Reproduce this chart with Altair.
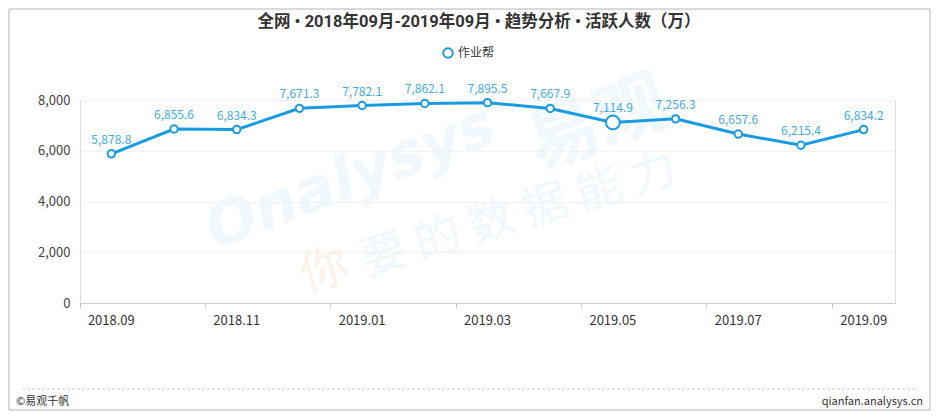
import altair as alt
import pandas as pd

months = ["2018.09", "2018.10", "2018.11", "2018.12", "2019.01", "2019.02", "2019.03",
          "2019.04", "2019.05", "2019.06", "2019.07", "2019.08", "2019.09"]
values = [5878.8, 6855.6, 6834.3, 7671.3, 7782.1, 7862.1, 7895.5,
          7667.9, 7114.9, 7256.3, 6657.6, 6215.4, 6834.2]
series_name = "作业帮"
tick_labels = ["2018.09", "2018.11", "2019.01", "2019.03", "2019.05", "2019.07", "2019.09"]
y_ticks = [0, 2000, 4000, 6000, 8000]
title_text = "全网 • 2018年09月-2019年09月 • 趋势分析 • 活跃人数（万）"
footer_left = "©易观千帆"
footer_right = "qianfan.analysys.cn"

df = pd.DataFrame({"month": months, "value": values, "series": series_name})
one = pd.DataFrame({"k": [0]})

W, H = 815, 203
FONT = "Noto Sans CJK SC"
TFONT = "Roboto, 'Noto Sans CJK SC'"
BLUE = "#1a9be1"
LABEL_BLUE = "#42aae8"
WM = "#e3f2fc"

x_enc = alt.X("month:O", sort=months, bandPosition=0.5,
              scale=alt.Scale(type="band", paddingInner=0, paddingOuter=0),
              axis=alt.Axis(title=None, values=tick_labels, labelAngle=0, bandPosition=0,
                            domainColor="#cccccc", tickColor="#cccccc",
                            tickSize=5, labelColor="#333333", labelFontSize=13, labelFont=FONT,
                            labelPadding=6, grid=False))
y_enc = alt.Y("value:Q", scale=alt.Scale(domain=[0, 8000], nice=False),
              axis=alt.Axis(title=None, values=y_ticks, format=",.0f", domain=False, ticks=False,
                            labelColor="#444444", labelFontSize=13, labelFont=FONT,
                            labelPadding=10, gridColor="#f2f2f2"))

base = alt.Chart(df)

# faint watermark
wm = alt.Chart(one)
wm1 = wm.mark_text(text="Onalysys", font="DejaVu Sans", fontSize=60, fontWeight="bold",
                   fontStyle="italic", color=WM, opacity=0.5, angle=339,
                   align="left", baseline="alphabetic").encode(x=alt.value(135), y=alt.value(150))
wm2 = wm.mark_text(text="易观", font=FONT, fontSize=72, fontWeight="bold", color=WM,
                   opacity=0.5, angle=340, align="left",
                   baseline="alphabetic").encode(x=alt.value(458), y=alt.value(70))
wm3 = wm.mark_text(text="你", font=FONT, fontSize=48, color="#fdebdc", opacity=0.6, angle=343,
                   align="left", baseline="alphabetic").encode(x=alt.value(226), y=alt.value(192))
wm4 = wm.mark_text(text="要 的 数 据 能 力", font=FONT, fontSize=46, color=WM,
                   opacity=0.5, angle=343, align="left",
                   baseline="alphabetic").encode(x=alt.value(286), y=alt.value(176))

line = base.mark_line(strokeWidth=3).encode(
    x=x_enc, y=y_enc,
    color=alt.Color("series:N", scale=alt.Scale(domain=[series_name], range=[BLUE]),
                    legend=alt.Legend(title=None, orient="none", legendX=362, legendY=-53,
                                      symbolType="circle", symbolFillColor="white",
                                      symbolStrokeWidth=2, symbolSize=90, labelFontSize=12,
                                      labelFont=FONT, labelColor="#333333")))
pts = base.mark_point(filled=True, fill="white", stroke=BLUE, strokeWidth=2, opacity=1).encode(
    x=x_enc, y=y_enc,
    size=alt.condition("datum.month == '2019.05'", alt.value(190), alt.value(55)))
labels = base.mark_text(dy=-14, fontSize=12, font=FONT, color=LABEL_BLUE).encode(
    x=x_enc, y=y_enc, text=alt.Text("value:Q", format=",.1f"))

deco = alt.Chart(one)
border = deco.mark_rect(fill=None, stroke="#b5b5b5", strokeWidth=1).encode(
    x=alt.value(-71), x2=alt.value(850), y=alt.value(-91), y2=alt.value(310))
title = deco.mark_text(text=title_text, font=TFONT, fontSize=16.5, fontWeight="bold",
                       color="#333333", align="center", baseline="middle").encode(
    x=alt.value(399), y=alt.value(-78))
dash = deco.mark_rule(stroke="#cccccc", strokeDash=[3, 2], strokeWidth=1).encode(
    x=alt.value(-58), x2=alt.value(838), y=alt.value(289))
fl = deco.mark_text(text=footer_left, font=FONT, fontSize=11, color="#333333", align="left",
                    baseline="middle").encode(x=alt.value(-64), y=alt.value(302))
fr = deco.mark_text(text=footer_right, font=FONT, fontSize=11, color="#333333", align="right",
                    baseline="middle").encode(x=alt.value(843), y=alt.value(302))

chart = alt.layer(wm1, wm2, wm3, wm4, line, pts, labels, border, title, dash, fl, fr).properties(
    width=W, height=H,
    autosize=alt.AutoSizeParams(type="none"),
    padding={"left": 72, "top": 92, "right": 37, "bottom": 109},
).configure_view(stroke=None).configure(background="white")

chart.save("out.html", embed_options={"renderer": "svg", "actions": False})
